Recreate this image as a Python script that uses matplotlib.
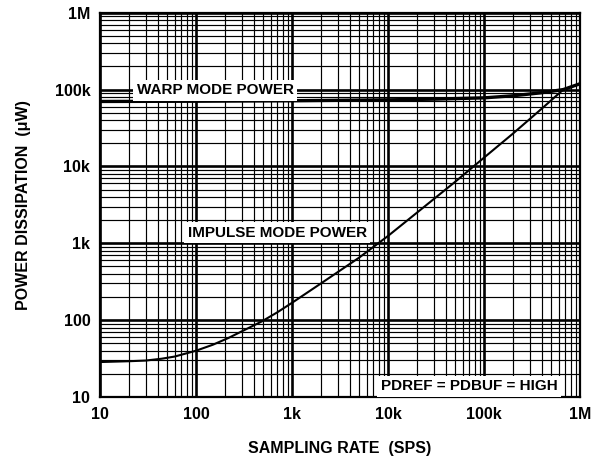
import matplotlib
matplotlib.use("Agg")
import matplotlib.pyplot as plt
from matplotlib.ticker import FixedLocator, FixedFormatter, LogLocator, NullFormatter

plt.rcParams['font.family'] = ['Liberation Sans', 'DejaVu Sans']
plt.rcParams['font.weight'] = 'bold'

# ---- data ----
tick_values = [10, 100, 1e3, 1e4, 1e5, 1e6]
tick_labels = ["10", "100", "1k", "10k", "100k", "1M"]

impulse_rate = [10, 20, 30, 44, 60, 100, 150, 217, 300, 483, 700, 1000, 2000,
                5000, 10000, 20000, 50000, 100000, 200000, 400000, 670000, 1000000]
impulse_power = [28.5, 29.2, 29.8, 31.5, 33.6, 40, 47.9, 58.5, 71.5, 96, 126, 168,
                 300, 650, 1245, 2500, 6300, 13000, 26700, 56500, 100000, 119000]

warp_rate = [10, 100, 1000, 10000, 30000, 100000, 200000, 400000, 670000, 1000000]
warp_power = [70000, 70500, 71500, 73500, 75000, 78000, 83000, 91000, 100000, 119000]

fig = plt.figure(figsize=(5.93, 4.57), dpi=100)
ax = fig.add_axes([100/593, 60/457, 480/593, 384.3/457])

ax.set_xscale('log')
ax.set_yscale('log')
ax.set_xlim(10, 1e6)
ax.set_ylim(10, 1e6)

ax.plot(warp_rate, warp_power, color='black', lw=2.4, zorder=3, solid_capstyle='butt')
ax.plot(impulse_rate, impulse_power, color='black', lw=1.5, zorder=3)

for axis in (ax.xaxis, ax.yaxis):
    axis.set_major_locator(FixedLocator(tick_values))
    axis.set_major_formatter(FixedFormatter(tick_labels))
    axis.set_minor_locator(LogLocator(base=10, subs=range(2, 10), numticks=20))
    axis.set_minor_formatter(NullFormatter())

ax.grid(which='major', color='black', lw=1.9)
ax.grid(which='minor', color='black', lw=0.85)
ax.set_axisbelow(True)

ax.tick_params(which='both', length=0)
ax.tick_params(axis='x', pad=7, labelsize=11.5)
ax.tick_params(axis='y', pad=7, labelsize=11.5)
for lab in ax.get_xticklabels() + ax.get_yticklabels():
    lab.set_fontweight('bold')

for s in ax.spines.values():
    s.set_linewidth(1.6)
    s.set_zorder(4)

ax.set_xlabel("SAMPLING RATE  (SPS)", fontsize=11.5, fontweight='bold', labelpad=14)
ax.set_ylabel("POWER DISSIPATION  (\u03bcW)", fontsize=11.5, fontweight='bold', labelpad=17)

box = dict(facecolor='white', edgecolor='none', pad=2.5)
ax.text(0.077, 0.788, "WARP MODE POWER", transform=ax.transAxes, fontsize=11,
        fontweight='bold', ha='left', va='baseline', bbox=box, zorder=5)
ax.text(0.183, 0.417, "IMPULSE MODE POWER", transform=ax.transAxes, fontsize=11,
        fontweight='bold', ha='left', va='baseline', bbox=box, zorder=5)
ax.text(0.585, 0.018, "PDREF = PDBUF = HIGH", transform=ax.transAxes, fontsize=11,
        fontweight='bold', ha='left', va='baseline', bbox=box, zorder=5)

fig.savefig("out.png", dpi=100)
